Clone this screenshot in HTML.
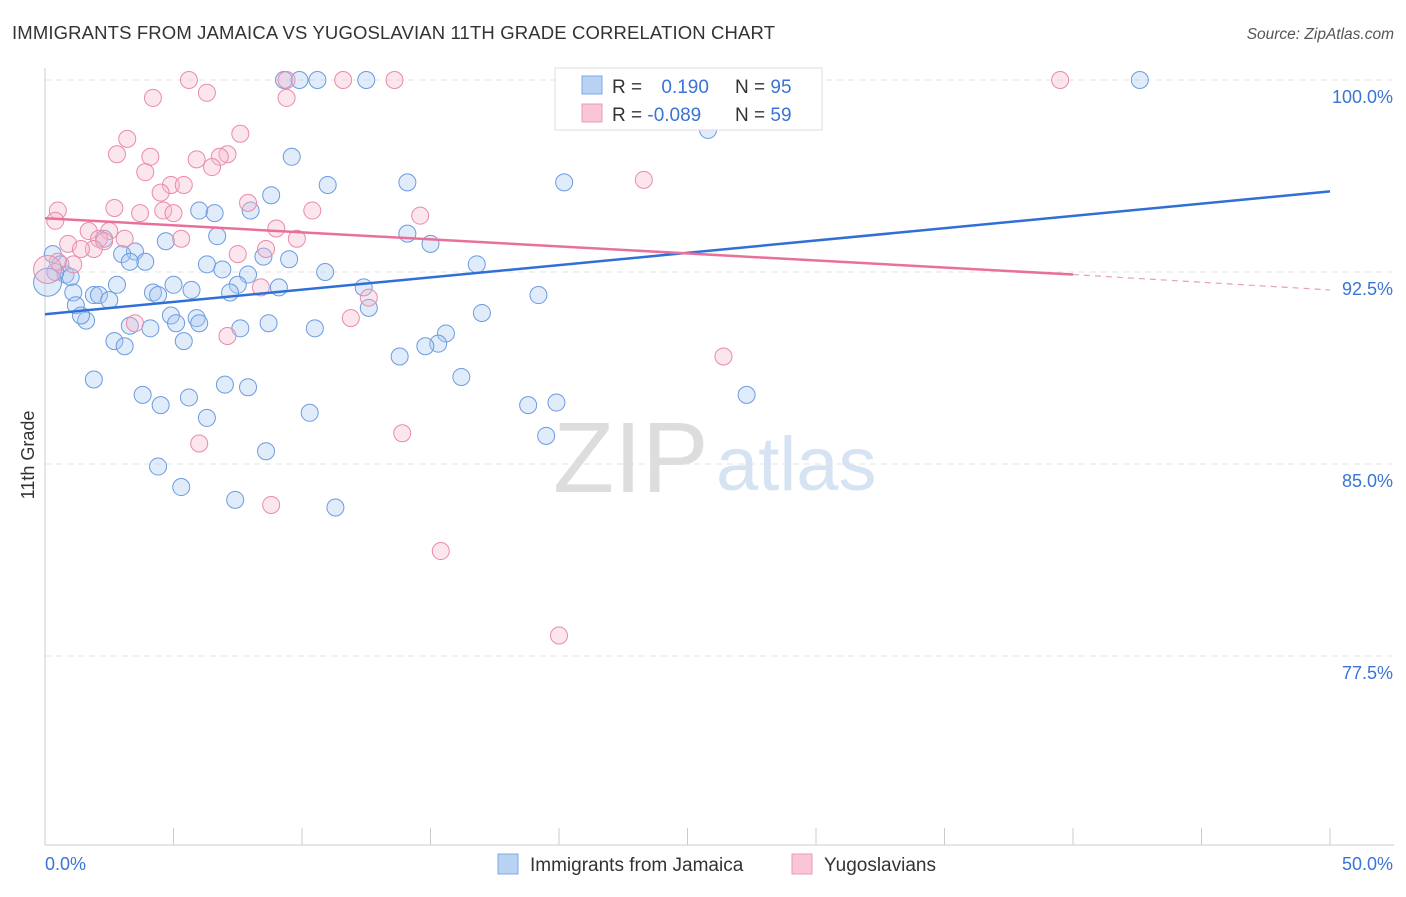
<!DOCTYPE html>
<html><head><meta charset="utf-8"><style>
body{margin:0;background:#fff;font-family:"Liberation Sans",sans-serif}
svg text{font-family:"Liberation Sans",sans-serif}
</style></head><body>
<svg width="1406" height="892">
<text x="12" y="39" font-size="18.5" fill="#333" textLength="763">IMMIGRANTS FROM JAMAICA VS YUGOSLAVIAN 11TH GRADE CORRELATION CHART</text>
<text x="1394" y="39" font-size="15.5" fill="#555" font-style="italic" text-anchor="end">Source: ZipAtlas.com</text>
<text x="553" y="492" font-size="100" fill="#ddd" font-family="Liberation Serif">ZIP</text>
<text x="716" y="490" font-size="76" fill="#d5e3f3">atlas</text>
<g id="grid"></g><g id="marks"></g>
<text transform="translate(34,455) rotate(-90)" font-size="18" fill="#333" text-anchor="middle">11th Grade</text>
<g>
<rect x="555" y="68" width="267" height="62" fill="#fff" stroke="#ddd"/>
<rect x="582" y="76" width="20" height="18" fill="#b8d2f4" stroke="#7ea9e6"/>
<rect x="582" y="104" width="20" height="18" fill="#f8c6d5" stroke="#ee9ab4"/>
<text x="612" y="93" font-size="19" fill="#333">R = <tspan fill="#3b74d4" dx="14">0.190</tspan></text>
<text x="735" y="93" font-size="19" fill="#333">N = <tspan fill="#3b74d4">95</tspan></text>
<text x="612" y="121" font-size="19" fill="#333">R = <tspan fill="#3b74d4">-0.089</tspan></text>
<text x="735" y="121" font-size="19" fill="#333">N = <tspan fill="#3b74d4">59</tspan></text>
</g>
<g>
<rect x="498" y="854" width="20" height="20" fill="#b8d2f4" stroke="#7ea9e6"/>
<text x="530" y="871" font-size="19" fill="#333">Immigrants from Jamaica</text>
<rect x="792" y="854" width="20" height="20" fill="#f8c6d5" stroke="#ee9ab4"/>
<text x="824" y="871" font-size="19" fill="#333">Yugoslavians</text>
</g>
</svg>
<script>
const yTicks=[100,92.5,85,77.5];
const xTickLabels=["0.0%","50.0%"];
const blueX=[9.3,9.9,10.6,12.5,42.6,20.3,25.8,9.6,11,14.1,20.2,8.8,8,6,6.6,14.1,15,4.7,6.7,2.3,3.5,3,0.3,0.6,3.9,3.3,8.5,9.5,16.8,6.3,7.9,6.9,10.9,0.8,1,0.4,2.8,5,7.5,9.1,12.4,19.2,1.1,1.9,2.1,2.5,1.2,4.2,4.4,5.7,7.2,12.6,17,1.6,1.4,3.3,4.1,4.9,5.1,5.9,6,7.6,8.7,10.5,15.6,15.3,14.8,2.7,3.1,5.4,13.8,1.9,16.2,7,7.9,3.8,4.5,5.6,27.3,10.3,18.8,19.9,6.3,8.6,19.5,4.4,5.3,7.4,11.3,0.1];
const blueY=[100,100,100,100,100,100,98.05,97,95.9,96,96,95.5,94.9,94.9,94.8,94,93.6,93.7,93.9,93.8,93.3,93.2,93.2,92.8,92.9,92.9,93.1,93,92.8,92.8,92.4,92.6,92.5,92.4,92.3,92.5,92,92,92,91.9,91.9,91.6,91.7,91.6,91.6,91.4,91.2,91.7,91.6,91.8,91.7,91.1,90.9,90.6,90.8,90.4,90.3,90.8,90.5,90.7,90.5,90.3,90.5,90.3,90.1,89.7,89.6,89.8,89.6,89.8,89.2,88.3,88.4,88.1,88,87.7,87.3,87.6,87.7,87,87.3,87.4,86.8,85.5,86.1,84.9,84.1,83.6,83.3,92.1];
const pinkX=[5.6,9.4,11.6,13.6,39.5,6.3,4.2,9.4,20.6,7.6,3.2,2.8,4.1,7.1,6.8,5.9,3.9,6.5,23.3,4.9,5.4,4.5,2.7,7.9,0.5,4.6,5,3.7,10.4,14.6,0.4,1.7,2.5,9,5.3,9.8,3.1,0.9,2.1,2.3,1.9,1.4,8.6,7.5,1.1,0.5,8.4,12.6,11.9,3.5,7.1,26.4,6,13.9,8.8,15.4,20,0.1];
const pinkY=[100,100,100,100,100,99.5,99.3,99.3,98.9,97.9,97.7,97.1,97,97.1,97,96.9,96.4,96.6,96.1,95.9,95.9,95.6,95,95.2,94.9,94.9,94.8,94.8,94.9,94.7,94.5,94.1,94.1,94.2,93.8,93.8,93.8,93.6,93.8,93.7,93.4,93.4,93.4,93.2,92.8,92.9,91.9,91.5,90.7,90.5,90,89.2,85.8,86.2,83.4,81.6,78.3,92.6];
const blueLine=[[0,90.85],[50,95.65]];
const pinkLine=[[0,94.6],[40,92.4]];
const pinkDash=[[40,92.4],[50,91.8]];
const NS="http://www.w3.org/2000/svg";
const sx=v=>45+v/50*1285, sy=v=>80+(100-v)/7.5*192;
function mk(t,a,p){const e=document.createElementNS(NS,t);for(const k in a)e.setAttribute(k,a[k]);p.appendChild(e);return e;}
const g=document.getElementById('grid'),m=document.getElementById('marks');
yTicks.forEach(v=>{const l=mk('line',{x1:45,x2:1394,y1:sy(v),y2:sy(v),stroke:'#e3e3e3','stroke-dasharray':'6,5'},g);


const t=mk('text',{x:1393,y:sy(v)+23,'font-size':18,fill:'#3b74d4','text-anchor':'end'},g);t.textContent=v.toFixed(1)+'%';

});
const ax=mk('line',{x1:45,x2:45,y1:68,y2:845,stroke:'#ccc'},g);


const bx=mk('line',{x1:45,x2:1394,y1:845,y2:845,stroke:'#ccc'},g);


for(let i=0;i<=10;i++){const l=mk('line',{x1:sx(i*5),x2:sx(i*5),y1:828,y2:845,stroke:'#ccc'},g);

}
xTickLabels.forEach((s,i)=>{const t=mk('text',{x:i?1393:45,y:870,'font-size':18,fill:'#3b74d4','text-anchor':i?'end':'start'},g);t.textContent=s;

});
function pts(X,Y,f,s,n){X.forEach((x,i)=>{const big=i==X.length-1;const c=mk('circle',{cx:sx(x),cy:sy(Y[i]),r:big?14:8.5,fill:f,'fill-opacity':0.35,stroke:s,'stroke-width':1},m);

});}
pts(blueX,blueY,'#a9c8f0','#6b9be0','jamaica-point');
pts(pinkX,pinkY,'#f6b8cb','#ea8aaa','yugoslavian-point');
function ln(L,c,n,d){const e=mk('line',{x1:sx(L[0][0]),y1:sy(L[0][1]),x2:sx(L[1][0]),y2:sy(L[1][1]),stroke:c,'stroke-width':d?1.2:2.5},m);if(d)e.setAttribute('stroke-dasharray','6,5');

}
ln(blueLine,'#2f6fd6','jamaica-trend-line');
ln(pinkLine,'#e8709a','yugoslavian-trend-line');
ln(pinkDash,'#e8a0b8','yugoslavian-trend-extension',1);
</script>
</body></html>
